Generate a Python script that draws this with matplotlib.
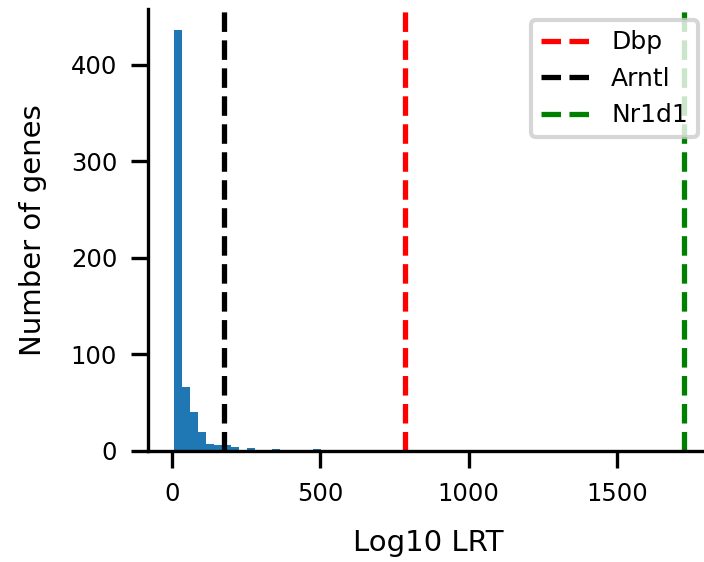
import numpy as np
import matplotlib
matplotlib.use("Agg")
import matplotlib.pyplot as plt

# Histogram data
bin_start = 5.0
bin_width = 27.6
counts = [436, 66, 40, 20, 7, 6, 6, 4, 0, 3, 0, 0, 2, 0, 0, 0, 0, 2]

# Reference genes
gene_names = ["Dbp", "Arntl", "Nr1d1"]
gene_values = [784, 174, 1724]
gene_colors = ["red", "black", "green"]

edges = bin_start + bin_width * np.arange(len(counts) + 1)
centers = (edges[:-1] + edges[1:]) / 2

fig = plt.figure(figsize=(7.04, 5.62), dpi=100)
ax = fig.add_axes([148 / 704, 111 / 562, 561 / 704, 442 / 562])

ax.hist(centers, bins=edges, weights=counts, color="#1f77b4")
for name, val, col in zip(gene_names, gene_values, gene_colors):
    ax.axvline(val, color=col, linestyle="--", linewidth=3.8, label=name)

for s in ["top", "right"]:
    ax.spines[s].set_visible(False)
for s in ["left", "bottom"]:
    ax.spines[s].set_linewidth(2.4)

ax.tick_params(axis="both", length=12.2, width=2.4, labelsize=17.5, pad=10)
ax.set_xticks([0, 500, 1000, 1500])
ax.set_yticks([0, 100, 200, 300, 400])
ax.set_xlabel("Log10 LRT", fontsize=21, labelpad=17)
ax.set_ylabel("Number of genes", fontsize=21, labelpad=17)

leg = ax.legend(loc="upper right", fontsize=18, framealpha=0.8,
                borderaxespad=0.45)
leg.get_frame().set_linewidth(3)

fig.savefig("out.png", dpi=100)
